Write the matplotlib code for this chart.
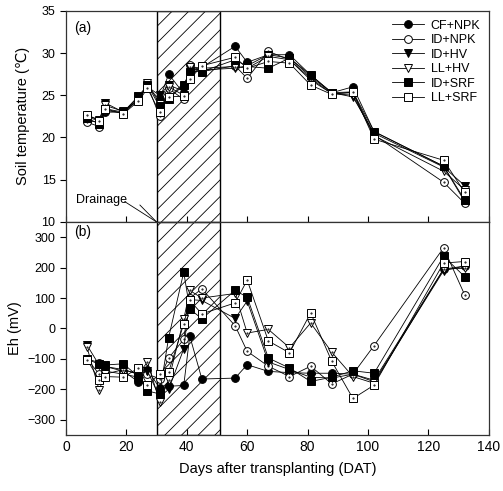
import matplotlib
matplotlib.use('Agg')
import matplotlib.pyplot as plt

plt.rcParams['font.family'] = ['Liberation Sans', 'DejaVu Sans']
plt.rcParams['hatch.linewidth'] = 0.6

# days after transplanting
dat = [7, 11, 13, 19, 24, 27, 31, 34, 39, 41, 45, 56, 60, 67, 74, 81, 88, 95, 102, 125, 132]

# soil temperature (C)
temp_cf_npk = [22.0, 21.8, 23.0, 23.0, 24.8, 26.0, 24.5, 27.5, 25.2, 27.8, 28.3, 30.8, 28.9, 29.8, 29.8, 27.4, 25.3, 26.0, 20.7, 16.6, 12.4]
temp_id_npk = [21.8, 21.3, 23.2, 22.9, 24.5, 26.2, 22.5, 25.8, 24.5, 28.6, 27.8, 28.5, 27.0, 30.2, 29.2, 27.0, 25.2, 25.3, 20.3, 14.7, 12.2]
temp_id_hv = [22.4, 22.0, 24.1, 23.0, 24.6, 26.0, 25.0, 26.2, 25.5, 28.2, 28.0, 28.2, 28.5, 29.8, 29.4, 27.2, 25.3, 24.8, 20.5, 16.5, 14.3]
temp_ll_hv = [22.6, 22.1, 23.8, 23.1, 24.4, 26.4, 24.0, 26.0, 25.0, 28.4, 28.2, 28.4, 28.2, 29.6, 29.2, 26.8, 25.2, 25.0, 20.2, 16.0, 13.8]
temp_id_srf = [22.3, 21.6, 23.4, 23.0, 24.9, 26.2, 23.7, 24.6, 26.2, 27.8, 27.8, 29.2, 28.4, 28.2, 29.4, 27.4, 25.3, 25.4, 20.7, 16.6, 12.6]
temp_ll_srf = [22.7, 22.0, 23.4, 22.8, 24.3, 25.8, 23.0, 24.8, 24.9, 26.9, 28.5, 29.5, 28.2, 29.0, 28.8, 26.2, 25.1, 25.4, 19.8, 17.3, 13.5]

# redox potential Eh (mV)
eh_cf_npk = [-100, -112, -125, -140, -175, -136, -195, -190, -187, -25, -166, -163, -119, -141, -145, -147, -147, -150, -170, 195, 205]
eh_id_npk = [-100, -150, -140, -150, -160, -150, -165, -97, -36, 100, 130, 9, -75, -124, -158, -124, -182, -150, -56, 265, 110]
eh_id_hv = [-55, -120, -125, -135, -150, -140, -225, -200, -67, 95, 92, 33, 90, -110, -135, -160, -163, -150, -175, 190, 205]
eh_ll_hv = [-62, -202, -150, -135, -150, -110, -240, -170, 30, 125, 100, 115, -15, -3, -63, 18, -78, -158, -180, 195, 198]
eh_id_srf = [-100, -118, -120, -116, -158, -205, -215, -30, 185, 64, 32, 125, 103, -97, -130, -174, -160, -139, -147, 237, 170]
eh_ll_srf = [-102, -169, -158, -160, -130, -186, -150, -143, 15, 92, 48, 84, 159, -41, -80, 51, -108, -230, -186, 215, 220]

labels = ['CF+NPK', 'ID+NPK', 'ID+HV', 'LL+HV', 'ID+SRF', 'LL+SRF']
markers = ['o', 'o', 'v', 'v', 's', 's']
fills = ['black', 'white', 'black', 'white', 'black', 'white']
temps = [temp_cf_npk, temp_id_npk, temp_id_hv, temp_ll_hv, temp_id_srf, temp_ll_srf]
ehs = [eh_cf_npk, eh_id_npk, eh_id_hv, eh_ll_hv, eh_id_srf, eh_ll_srf]

drain_start, drain_end = 30, 51

fig = plt.figure(figsize=(5.03, 4.91), dpi=100)
ax1 = fig.add_axes([0.131, 0.548, 0.841, 0.43])
ax2 = fig.add_axes([0.131, 0.114, 0.841, 0.434])

for ax in (ax1, ax2):
    ax.axvspan(drain_start, drain_end, facecolor='white', edgecolor='black',
               hatch='//', linewidth=1.0, zorder=1)

for ax, series in ((ax1, temps), (ax2, ehs)):
    for i in range(6):
        ms = 6.2 if markers[i] == 'v' else 5.6
        ax.plot(dat, series[i], color='black', linewidth=0.6, marker=markers[i],
                markersize=ms, markerfacecolor=fills[i], markeredgecolor='black',
                markeredgewidth=0.7, label=labels[i], zorder=3 + i * 0.1)
        if fills[i] == 'white':
            ax.plot(dat, series[i], linestyle='none', marker='.', markersize=1.0,
                    color='black', zorder=3.05 + i * 0.1)

for ax in (ax1, ax2):
    ax.set_xlim(0, 140)
    ax.set_xticks([0, 20, 40, 60, 80, 100, 120, 140])
    ax.tick_params(axis='x', direction='in', length=4, width=0.8, labelsize=10)
    ax.tick_params(axis='y', direction='out', length=4, width=0.8, labelsize=9)
    for sp in ax.spines.values():
        sp.set_linewidth(0.9)
        sp.set_color('#333333')

ax1.set_ylim(10, 35)
ax1.set_yticks([10, 15, 20, 25, 30, 35])
ax1.tick_params(axis='x', labelbottom=False)
ax1.set_ylabel('Soil temperature (\u2103)', fontsize=10.5, labelpad=8)
ax1.text(0.02, 0.95, '(a)', transform=ax1.transAxes, fontsize=10, va='top')

ax2.set_ylim(-350, 350)
ax2.set_yticks([-300, -200, -100, 0, 100, 200, 300])
ax2.set_ylabel('Eh (mV)', fontsize=10.5, labelpad=4)
ax2.set_xlabel('Days after transplanting (DAT)', fontsize=10.5, labelpad=6)
ax2.text(0.02, 0.985, '(b)', transform=ax2.transAxes, fontsize=10, va='top')

ax1.legend(loc='upper right', frameon=False, fontsize=9, handlelength=2.6,
           labelspacing=0.2, borderaxespad=0.3, handletextpad=0.5)

# drainage marker
ax1.text(3.5, 12.6, 'Drainage', fontsize=9, va='center')
ax1.plot([19.5, drain_start], [12.4, 10.0], color='black', linewidth=0.6, zorder=4)
ax1.plot([24.5, drain_start], [12.0, 10.0], color='black', linewidth=0.6, zorder=4)

plt.savefig('out.png', dpi=100)
